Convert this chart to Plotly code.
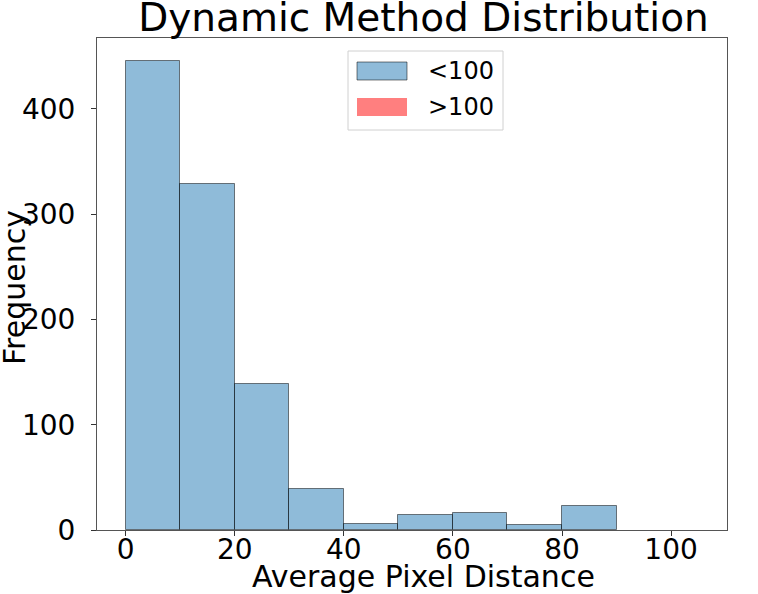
import plotly.graph_objects as go

# Histogram data
bin_edges = [0, 10, 20, 30, 40, 50, 60, 70, 80, 90]
counts_lt100 = [445, 329, 139, 39, 6, 14, 16, 5, 23]
bin_edges_gt100 = [100, 105]
counts_gt100 = [0]

x_tick_vals = [0, 20, 40, 60, 80, 100]
y_tick_vals = [0, 100, 200, 300, 400]

centers = [(a + b) / 2 for a, b in zip(bin_edges[:-1], bin_edges[1:])]
widths = [b - a for a, b in zip(bin_edges[:-1], bin_edges[1:])]
centers2 = [(a + b) / 2 for a, b in zip(bin_edges_gt100[:-1], bin_edges_gt100[1:])]
widths2 = [b - a for a, b in zip(bin_edges_gt100[:-1], bin_edges_gt100[1:])]

FONT = "DejaVu Sans"
BLUE = "rgba(31,119,180,0.5)"
RED = "rgba(255,0,0,0.5)"
EDGE = "rgba(0,0,0,0.5)"

fig = go.Figure()
fig.add_trace(go.Bar(x=centers, y=counts_lt100, width=widths, name="<100",
                     marker=dict(color=BLUE, line=dict(color=EDGE, width=1)),
                     showlegend=False))
fig.add_trace(go.Bar(x=centers2, y=counts_gt100, width=widths2, name=">100",
                     marker=dict(color=RED, line=dict(width=0)),
                     showlegend=False))

W, H = 758, 594
L, R, T, B = 97, 31, 38, 64
pw, ph = W - L - R, H - T - B
def px(x):
    return (x - L) / pw
def py(y):
    return 1 - (y - T) / ph

# matplotlib-like legend box
shapes = [
    dict(type="rect", xref="paper", yref="paper", x0=px(348), x1=px(503), y0=py(130), y1=py(51),
         line=dict(color="#d0d0d0", width=1), fillcolor="rgba(255,255,255,0.8)", layer="above"),
    dict(type="rect", xref="paper", yref="paper", x0=px(357), x1=px(407), y0=py(80), y1=py(62),
         line=dict(color=EDGE, width=1), fillcolor=BLUE, layer="above"),
    dict(type="rect", xref="paper", yref="paper", x0=px(357), x1=px(407), y0=py(116), y1=py(98),
         line=dict(width=0), fillcolor=RED, layer="above"),
]
annotations = [
    dict(text="<100", xref="paper", yref="paper", x=px(426), y=py(71), xanchor="left", yanchor="middle",
         showarrow=False, font=dict(family=FONT, size=24, color="black")),
    dict(text=">100", xref="paper", yref="paper", x=px(426), y=py(107), xanchor="left", yanchor="middle",
         showarrow=False, font=dict(family=FONT, size=24, color="black")),
    dict(text="Average Pixel Distance", xref="paper", yref="paper", x=px(423.5), y=0,
         xanchor="center", yanchor="middle", yshift=-46, showarrow=False,
         font=dict(family=FONT, size=30, color="black")),
    dict(text="Frequency", xref="paper", yref="paper", x=0, y=py(288), textangle=-90,
         xanchor="center", yanchor="middle", xshift=-(L - 14), showarrow=False,
         font=dict(family=FONT, size=30, color="black")),
]

axis_common = dict(showline=True, linecolor="#555", linewidth=1, mirror=True, automargin=False,
                   ticks="outside", ticklen=5, tickcolor="#333", showgrid=False, zeroline=False,
                   tickfont=dict(family=FONT, size=28, color="black"))

fig.update_layout(
    width=W, height=H,
    margin=dict(l=L, r=R, t=T, b=B, autoexpand=False),
    paper_bgcolor="white", plot_bgcolor="white",
    bargap=0,
    title=dict(text="Dynamic Method Distribution", x=px(423.5), xref="paper", xanchor="center",
               y=1 - 17 / H, yanchor="middle", yref="container", automargin=False,
               font=dict(family=FONT, size=39, color="black")),
    xaxis=dict(range=[-5.25, 110.25], tickvals=x_tick_vals, ticklabelstandoff=-11,
               **axis_common),
    yaxis=dict(range=[0, 467.25], tickvals=y_tick_vals, ticklabelstandoff=10,
               **axis_common),
    shapes=shapes, annotations=annotations,
)

fig.write_html("out.html", config={"displayModeBar": False},
               post_script="document.body.style.margin='0';")
